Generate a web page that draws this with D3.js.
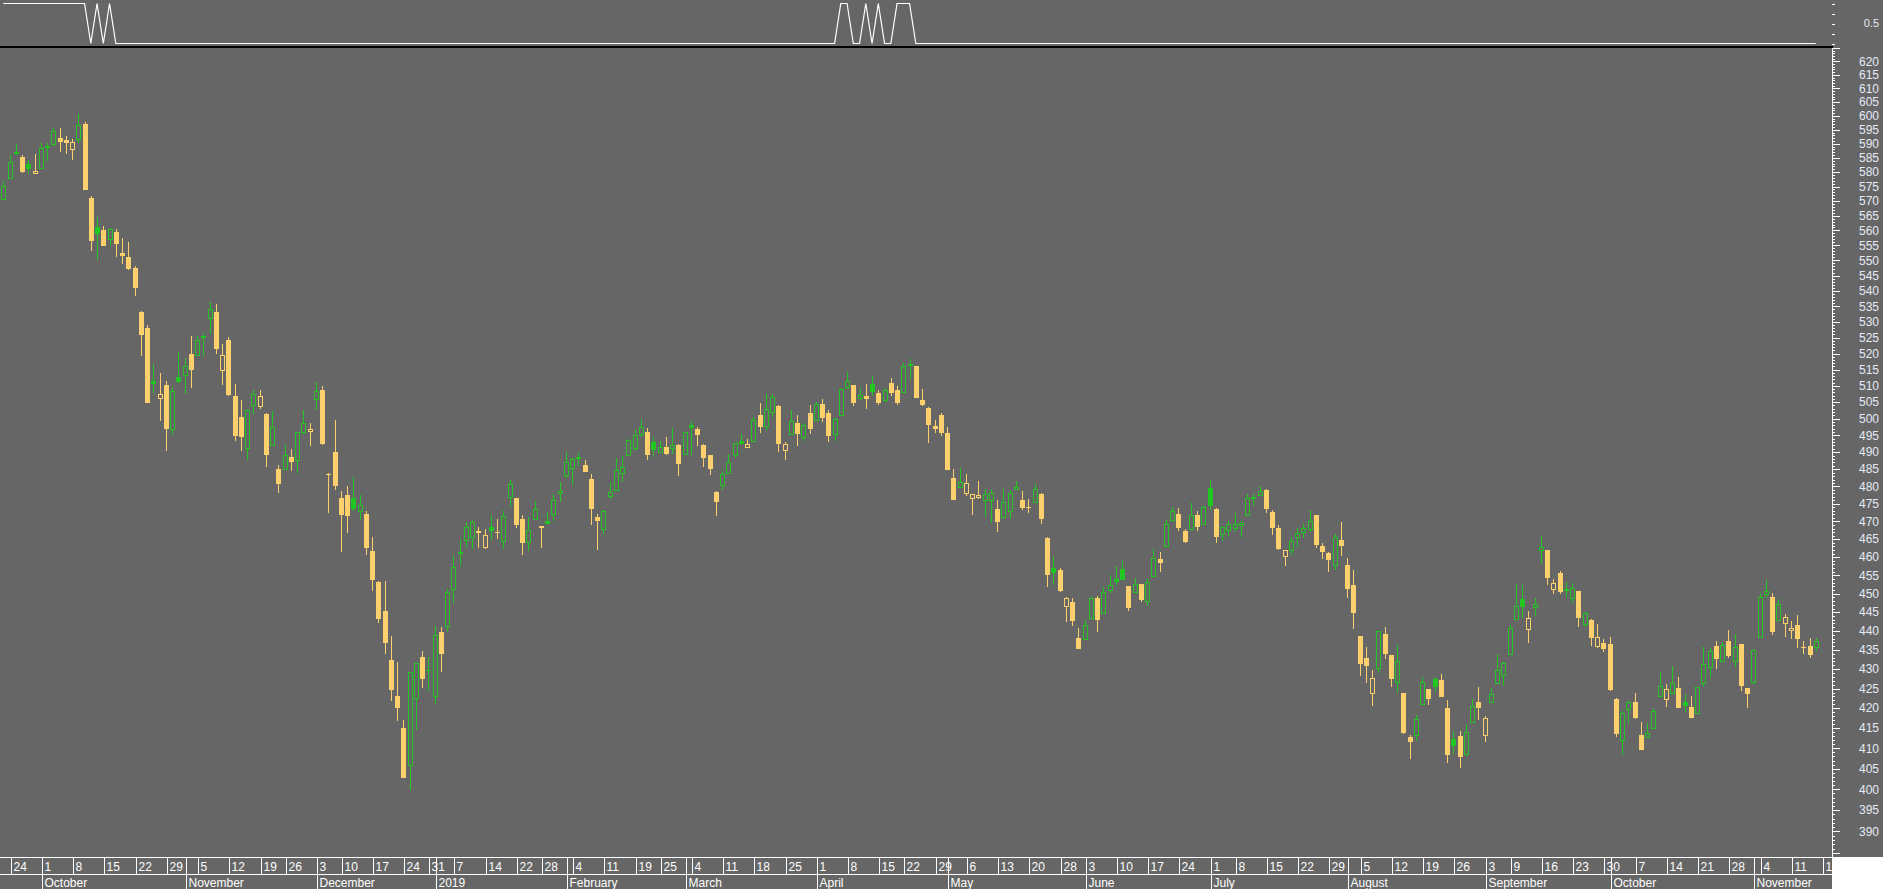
<!DOCTYPE html>
<html><head><meta charset="utf-8">
<script src="https://cdn.jsdelivr.net/npm/d3@7"></script>
<style>
html,body{margin:0;padding:0;background:#666666;overflow:hidden}
svg{display:block}
text{font-family:"Liberation Sans",Arial,sans-serif}
</style></head><body>
<svg id="chart" width="1883" height="889"></svg>
<script>
// ---------------- DATA ----------------
const openP = [
570.8,578.1,587.1,585.3,582.9,579.7,581.6,589.2,590.0,592.0,
591.2,588.3,591.8,597.1,571.0,561.2,560.2,557.0,559.5,552.4,
551.1,547.5,533.2,528.1,511.5,506.4,510.2,497.0,512.7,513.2,
519.9,519.4,525.6,531.1,533.2,514.8,524.3,506.9,500.5,491.2,
504.1,503.8,501.4,492.1,485.1,485.0,488.6,487.6,495.9,496.2,
505.9,508.7,483.7,490.1,476.7,477.6,476.7,472.9,472.2,461.8,
453.3,445.4,432.4,423.1,415.1,405.8,422.5,433.2,429.9,423.2,
439.7,441.3,451.4,461.5,464.9,465.6,467.2,462.7,468.5,467.1,
464.6,477.1,476.7,470.8,464.1,470.7,468.7,470.2,472.1,478.1,
483.2,485.3,488.7,486.3,482.2,471.3,467.8,477.2,478.9,483.8,
489.1,491.2,495.3,496.0,492.9,490.0,491.6,491.3,492.2,489.4,
498.0,496.9,492.2,489.2,478.5,480.5,484.0,489.3,493.3,491.5,
493.2,501.1,497.7,502.0,503.9,490.6,495.3,498.7,494.4,501.7,
499.5,504.5,501.7,495.3,501.0,509.7,510.2,506.2,506.9,510.5,
507.9,505.8,510.8,508.7,508.0,516.6,516.1,505.7,503.3,497.7,
501.1,495.7,482.5,479.8,478.1,476.6,476.9,476.0,476.1,473.6,
471.4,472.9,479.2,476.2,474.2,475.4,477.9,465.4,457.0,456.5,
446.8,447.8,438.2,437.8,443.4,448.8,444.7,450.9,454.0,456.7,
452.1,450.4,452.6,448.0,454.9,459.4,463.1,470.4,472.2,467.4,
467.8,471.8,469.3,479.5,473.6,466.5,467.6,468.1,469.0,471.8,
476.9,477.5,479.0,472.6,468.1,460.3,462.0,465.6,466.9,467.8,
471.8,463.2,461.2,457.8,464.7,457.9,452.4,438.7,432.9,423.8,
430.3,439.2,433.7,426.6,423.9,412.8,413.3,421.0,424.8,427.5,
427.2,420.1,412.3,413.1,408.7,416.5,421.6,413.2,421.5,426.4,
428.4,433.9,443.1,448.6,440.5,446.3,462.1,461.9,451.4,455.6,
451.1,448.7,450.7,441.8,443.0,436.1,436.8,436.6,422.4,412.0,
419.7,421.6,413.3,412.8,415.0,423.1,422.3,424.0,425.2,421.6,
420.3,418.7,426.4,430.5,436.1,432.2,437.4,432.0,436.6,425.1,
426.6,438.4,449.8,449.1,442.8,442.2,440.4,441.5,435.8,436.1,435.7];

const highP = [
577.0,586.0,589.9,586.0,584.3,586.4,590.2,590.2,595.6,595.6,
592.7,591.7,600.7,597.7,571.7,564.6,561.4,560.9,560.6,557.5,
556.1,548.2,533.4,529.0,516.8,514.0,511.5,509.6,520.5,518.6,
525.5,525.5,526.5,536.4,535.8,523.0,525.1,510.5,505.7,502.8,
508.7,508.7,501.6,502.2,486.3,492.2,491.0,496.0,502.7,498.7,
511.1,509.9,483.8,499.6,478.8,480.2,482.8,477.6,473.0,465.7,
453.5,453.5,438.7,431.9,417.1,429.3,431.7,434.7,433.2,441.3,
441.1,451.3,460.6,465.2,469.8,470.3,468.5,467.9,471.9,470.8,
473.1,481.9,476.8,471.9,471.2,475.9,468.8,472.7,477.8,481.4,
490.0,488.4,489.8,487.6,483.7,472.2,473.3,481.4,488.3,489.0,
493.8,496.8,499.9,497.2,494.5,493.2,494.5,497.1,492.3,496.0,
499.3,497.5,492.3,489.3,478.6,484.4,489.4,492.7,495.4,493.9,
500.4,504.8,507.5,507.5,504.0,493.0,502.7,501.1,498.6,504.2,
505.2,505.9,502.7,500.2,509.3,514.3,510.3,509.3,510.5,513.0,
508.7,509.3,512.4,509.9,517.1,518.3,516.2,509.0,503.4,499.6,
501.7,497.5,485.1,485.4,483.7,477.9,481.6,479.3,479.3,476.2,
479.3,479.0,481.6,478.8,476.4,480.8,478.0,465.5,460.4,457.0,
449.1,448.8,440.8,442.9,449.1,449.5,451.8,455.0,457.7,458.9,
452.2,454.3,452.7,454.0,462.4,461.5,470.4,474.1,473.9,467.8,
475.3,472.9,474.5,481.9,473.7,468.4,470.0,472.4,470.2,477.9,
477.7,480.2,479.3,473.3,469.0,462.1,465.7,468.1,469.3,473.2,
471.9,463.9,461.5,466.5,469.8,459.8,456.5,438.8,435.8,429.8,
440.0,441.1,433.8,436.3,424.0,413.3,418.3,427.9,424.9,428.0,
428.8,422.1,414.3,414.3,416.1,422.3,425.4,418.1,425.2,434.0,
431.9,441.5,452.6,452.4,445.3,448.8,465.9,462.0,453.9,456.2,
453.2,452.8,450.8,445.1,443.2,441.9,437.8,438.4,422.5,419.2,
421.9,423.9,416.6,416.3,420.1,429.3,426.3,430.9,428.0,423.6,
423.1,425.5,435.8,435.5,437.4,437.1,440.3,439.2,436.7,425.2,
435.3,450.1,453.7,450.1,448.6,444.4,442.6,444.2,437.3,438.2,438.2];

const lowP = [
570.5,577.9,586.5,579.9,579.7,579.2,581.4,584.4,589.3,587.6,
586.9,584.1,590.4,574.0,553.6,550.6,555.0,554.9,551.6,549.2,
547.3,538.5,519.7,505.0,508.2,499.4,490.8,495.2,511.3,507.6,
509.7,519.2,519.4,526.3,520.3,510.3,507.3,493.7,490.8,487.8,
501.5,502.8,486.1,491.9,478.3,484.9,484.9,483.8,495.3,491.7,
502.5,492.3,472.8,479.4,461.6,466.9,473.3,470.3,460.8,451.1,
442.5,434.3,422.1,417.1,402.9,399.8,414.6,425.3,424.7,421.2,
429.6,439.8,447.5,458.2,462.7,462.2,462.7,462.2,465.1,465.4,
462.4,474.0,468.5,460.9,461.6,470.6,462.9,469.6,470.0,475.4,
482.6,480.3,486.3,484.5,469.4,462.2,466.3,476.3,478.8,481.2,
489.0,490.5,494.6,487.9,488.8,489.9,489.6,489.6,483.4,489.3,
489.6,492.0,486.1,483.5,471.7,479.1,483.9,488.4,492.3,491.4,
493.1,496.0,496.4,500.6,490.5,487.6,495.2,492.0,493.4,495.8,
499.4,499.3,493.4,493.4,500.9,509.1,504.0,505.8,503.1,507.3,
504.5,505.2,507.3,504.3,507.9,512.5,506.6,504.0,493.1,496.1,
495.2,485.1,476.4,479.7,477.4,471.7,476.5,471.2,469.6,467.2,
471.3,471.1,479.1,473.6,472.8,475.3,469.7,452.2,452.5,450.8,
442.5,441.7,435.4,437.7,443.3,440.1,444.6,450.3,452.7,454.0,
445.5,450.3,448.1,446.8,454.8,456.3,463.0,470.3,467.7,464.1,
467.7,467.5,469.2,473.4,464.3,464.4,465.6,466.9,465.5,471.7,
474.3,477.4,472.8,466.5,462.4,457.6,460.5,462.7,465.3,467.0,
462.7,459.9,456.3,456.6,460.7,449.2,440.9,428.6,426.6,420.7,
428.9,432.8,425.8,424.0,413.9,407.7,411.9,420.9,421.2,424.3,
423.1,406.7,408.8,405.5,408.2,416.4,417.4,411.5,421.4,426.3,
425.8,433.8,443.0,443.8,436.9,444.1,458.0,452.7,450.0,450.1,
449.2,447.6,441.4,441.0,436.4,435.6,434.8,424.7,413.0,408.4,
416.2,417.6,409.8,412.7,414.9,423.0,420.2,423.9,420.3,419.4,
417.8,418.6,425.3,428.1,430.2,432.1,433.1,430.5,424.7,420.2,
426.1,438.3,448.7,439.2,442.7,438.5,438.0,435.9,434.1,433.1,434.8];

const closeP = [
575.1,583.5,586.6,580.5,581.3,580.5,588.4,588.7,594.4,590.9,
590.7,590.5,596.6,574.3,556.9,559.3,555.2,560.4,555.9,551.9,
547.6,541.4,526.3,505.2,510.9,507.5,497.3,508.4,511.6,516.1,
515.3,524.2,525.3,534.0,521.6,519.5,507.6,495.2,494.9,502.6,
507.4,506.9,489.6,497.4,481.1,489.1,487.5,495.9,498.6,496.8,
508.3,492.8,483.5,480.3,472.0,471.8,473.7,474.6,462.7,453.9,
443.4,437.2,425.0,420.2,403.1,429.2,431.6,427.8,429.7,439.0,
434.3,450.4,457.3,461.2,468.4,469.9,466.9,466.1,467.5,466.9,
471.5,480.7,469.4,464.3,467.6,473.5,468.3,469.7,476.1,478.7,
487.0,488.1,488.3,484.6,473.7,470.3,472.9,478.4,484.7,485.7,
493.5,495.0,497.5,489.6,491.1,491.5,489.8,492.1,486.9,495.9,
497.4,495.5,488.7,485.5,475.7,483.6,487.0,492.6,492.8,492.5,
499.6,497.9,503.0,506.5,492.6,492.4,499.2,495.8,498.0,497.3,
504.4,500.5,495.2,499.8,509.0,511.5,504.9,507.1,506.4,508.5,
505.2,508.6,508.2,504.9,516.0,516.3,506.7,504.3,498.5,497.3,
496.1,485.2,476.5,481.3,481.1,477.8,477.5,477.8,478.1,470.0,
475.5,478.1,479.8,474.2,474.0,479.2,471.1,455.5,456.0,451.0,
448.8,443.0,435.6,441.5,448.7,443.3,450.4,452.3,453.5,454.1,
446.5,452.6,448.6,453.1,459.7,458.8,469.2,472.9,468.3,464.4,
471.8,468.6,474.2,474.8,465.8,468.3,469.2,469.4,469.6,476.6,
477.1,478.7,473.7,468.3,462.5,462.0,464.4,466.7,468.1,470.1,
463.8,461.6,459.4,465.6,463.5,451.6,445.2,431.5,431.0,427.7,
439.9,434.3,427.8,432.1,414.0,411.9,417.3,426.7,422.5,425.8,
423.2,408.7,410.7,408.1,414.0,420.5,420.2,417.5,423.6,429.7,
431.6,440.7,446.6,446.8,443.4,447.1,462.7,454.5,452.8,450.8,
451.3,451.5,443.8,444.7,438.5,438.3,435.4,424.9,413.7,418.8,
421.5,417.7,409.9,413.9,419.3,425.6,424.9,426.5,420.4,420.8,
417.9,425.4,431.3,434.7,432.8,436.2,433.6,435.7,425.9,424.0,
434.9,449.0,450.6,440.1,447.1,443.7,440.7,438.2,435.7,434.0,437.3];

// upper indicator panel (0 / 1 per bar)
const signal = (
  "1111111111 1111010100 0000000000 0000000000 0000000000 " +
  "0000000000 0000000000 0000000000 0000000000 0000000000 " +
  "0000000000 0000000000 0000000000 0000110010 1001110000 " +
  "0000000000 0000000000 0000000000 0000000000 0000000000 " +
  "0000000000 0000000000 0000000000 0000000000 0000000000 " +
  "0000000000 0000000000 0000000000 0000000000 0"
).replace(/ /g, "").split("").map(Number);

const firstDay = "2018-09-21";
const marketHolidays = ["2018-11-22","2018-12-05","2018-12-25","2019-01-01","2019-01-21",
  "2019-02-18","2019-04-19","2019-05-27","2019-07-04","2019-09-02"];
const monthNames = ["January","February","March","April","May","June","July",
  "August","September","October","November","December"];
const priceTicks = d3.range(385, 626, 1);       // axis tick marks
const priceLabelStep = 5;
const signalTicks = [0, 0.25, 0.5, 0.75, 1];
const signalLabels = [0.5];

// ---------------- LAYOUT ----------------
const W = 1883, H = 889;
const plotRight = 1832;
const axisTop = 857, axisMid = 874;
const upColor = "#22c622", downColor = "#fbd06d";

const svg = d3.select("#chart");
svg.append("rect").attr("width", W).attr("height", H).attr("fill", "#666666");
svg.append("rect").attr("x", plotRight + 1).attr("y", axisTop).attr("width", W - plotRight)
  .attr("height", H - axisTop).attr("fill", "#ffffff");

// trading dates (one extra slot after the last bar)
const dates = [];
{
  const d = new Date(firstDay + "T00:00:00Z");
  while (dates.length < openP.length + 1) {
    const wd = d.getUTCDay();
    const iso = d.toISOString().slice(0, 10);
    if (wd !== 0 && wd !== 6 && !marketHolidays.includes(iso)) dates.push(new Date(d));
    d.setUTCDate(d.getUTCDate() + 1);
  }
}

const n = openP.length;
const x = d3.scaleLinear().domain([0, n - 1]).range([3.3, 3.3 + 6.25 * (n - 1)]);
const y = d3.scaleLog().domain([384.03, 625.02]).range([axisTop, 48]);
const ys = d3.scaleLinear().domain([0, 1]).range([43.5, 3.5]);

// ---------------- UPPER PANEL ----------------
svg.append("path")
  .datum(signal)
  .attr("fill", "none").attr("stroke", "#ffffff").attr("stroke-width", 1.2)
  .attr("d", d3.line().x((d, i) => x(i)).y(d => ys(d)));

svg.append("rect").attr("x", 0).attr("y", 46).attr("width", plotRight + 1).attr("height", 2).attr("fill", "#000000");

const sAxis = svg.append("g").attr("shape-rendering", "crispEdges");
sAxis.selectAll("line").data(signalTicks).join("line")
  .attr("x1", plotRight).attr("x2", plotRight + 3)
  .attr("y1", d => Math.round(ys(d)) + 0.5).attr("y2", d => Math.round(ys(d)) + 0.5)
  .attr("stroke", "#ffffff");
sAxis.selectAll("text").data(signalLabels).join("text")
  .attr("x", 1879).attr("y", d => ys(d)).attr("dy", "0.35em")
  .attr("text-anchor", "end").attr("font-size", 11).attr("fill", "#e4eaf6")
  .text(d => d);

// ---------------- CANDLES ----------------
const bars = d3.range(n).map(i => ({
  i, o: openP[i], h: highP[i], l: lowP[i], c: closeP[i],
  up: i === 0 ? true : closeP[i] >= closeP[i - 1],
  hollow: closeP[i] > openP[i]
}));

const cg = svg.append("g").attr("shape-rendering", "crispEdges");
bars.forEach(b => {
  const px = Math.round(x(b.i));
  const col = b.up ? upColor : downColor;
  const yt = Math.round(y(Math.max(b.o, b.c)));
  const yb = Math.round(y(Math.min(b.o, b.c)));
  const yh = Math.round(y(b.h));
  const yl = Math.round(y(b.l));
  if (b.hollow) {
    if (yh < yt) cg.append("line").attr("x1", px + 0.5).attr("x2", px + 0.5).attr("y1", yh).attr("y2", yt).attr("stroke", col);
    if (yl > yb) cg.append("line").attr("x1", px + 0.5).attr("x2", px + 0.5).attr("y1", yb + 1).attr("y2", yl).attr("stroke", col);
    cg.append("rect").attr("x", px - 1.5).attr("y", yt + 0.5)
      .attr("width", 4).attr("height", Math.max(1, yb - yt))
      .attr("fill", "none").attr("stroke", col);
  } else {
    cg.append("line").attr("x1", px + 0.5).attr("x2", px + 0.5).attr("y1", yh).attr("y2", yl + 1).attr("stroke", col);
    cg.append("rect").attr("x", px - 2).attr("y", yt)
      .attr("width", 5).attr("height", Math.max(1, yb - yt + 1))
      .attr("fill", col);
  }
});

// ---------------- PRICE AXIS ----------------
const pa = svg.append("g").attr("shape-rendering", "crispEdges");
pa.append("line").attr("x1", plotRight + 0.5).attr("x2", plotRight + 0.5)
  .attr("y1", 48).attr("y2", axisTop).attr("stroke", "#ffffff");
pa.selectAll("line.tk").data(priceTicks).join("line").attr("class", "tk")
  .attr("x1", plotRight).attr("x2", d => plotRight + (d % priceLabelStep === 0 ? 8 : 3))
  .attr("y1", d => Math.round(y(d)) + 0.5).attr("y2", d => Math.round(y(d)) + 0.5)
  .attr("stroke", "#ffffff");
pa.selectAll("text").data(priceTicks.filter(d => d % priceLabelStep === 0 && d >= 390 && d <= 620)).join("text")
  .attr("x", 1879).attr("y", d => y(d)).attr("dy", "0.35em")
  .attr("text-anchor", "end").attr("font-size", 12).attr("fill", "#e4eaf6")
  .text(d => d);

// ---------------- DATE AXIS ----------------
const da = svg.append("g");
svg.append("clipPath").attr("id", "axclip").append("rect")
  .attr("x", 0).attr("y", axisTop).attr("width", plotRight).attr("height", H - axisTop);
const dl = da.append("g").attr("shape-rendering", "crispEdges");
dl.append("line").attr("x1", 0).attr("x2", plotRight + 1).attr("y1", axisTop + 0.5).attr("y2", axisTop + 0.5).attr("stroke", "#fff");
dl.append("line").attr("x1", 0).attr("x2", plotRight + 1).attr("y1", axisMid + 0.5).attr("y2", axisMid + 0.5).attr("stroke", "#fff");
dl.append("line").attr("x1", plotRight + 0.5).attr("x2", plotRight + 0.5).attr("y1", axisTop).attr("y2", H).attr("stroke", "#fff");

const weekTicks = [], monthTicks = [];
dates.forEach((d, i) => {
  if (i === 0) return;
  const p = dates[i - 1];
  if (+d3.utcMonday.floor(d) !== +d3.utcMonday.floor(p)) weekTicks.push({ i, label: String(d.getUTCDate()) });
  if (d.getUTCMonth() !== p.getUTCMonth())
    monthTicks.push({ i, label: d.getUTCMonth() === 0 ? String(d.getUTCFullYear()) : monthNames[d.getUTCMonth()] });
});
const xt = i => Math.round(x(i)) + 1.5;

const lg = da.append("g").attr("clip-path", "url(#axclip)");
lg.append("g").attr("shape-rendering", "crispEdges").selectAll("line").data(weekTicks).join("line")
  .attr("x1", d => xt(d.i)).attr("x2", d => xt(d.i)).attr("y1", axisTop).attr("y2", axisMid)
  .attr("stroke", "#fff");
lg.append("g").attr("shape-rendering", "crispEdges").selectAll("line").data(monthTicks).join("line")
  .attr("x1", d => xt(d.i)).attr("x2", d => xt(d.i)).attr("y1", axisTop).attr("y2", H)
  .attr("stroke", "#fff");
lg.append("g").selectAll("text").data(weekTicks).join("text")
  .attr("x", d => xt(d.i) + 2).attr("y", 871)
  .attr("font-size", 12).attr("fill", "#ffffff").text(d => d.label);
lg.append("g").selectAll("text").data(monthTicks).join("text")
  .attr("x", d => xt(d.i) + 2).attr("y", 887)
  .attr("font-size", 12).attr("fill", "#ffffff").text(d => d.label);
</script>
</body></html>
